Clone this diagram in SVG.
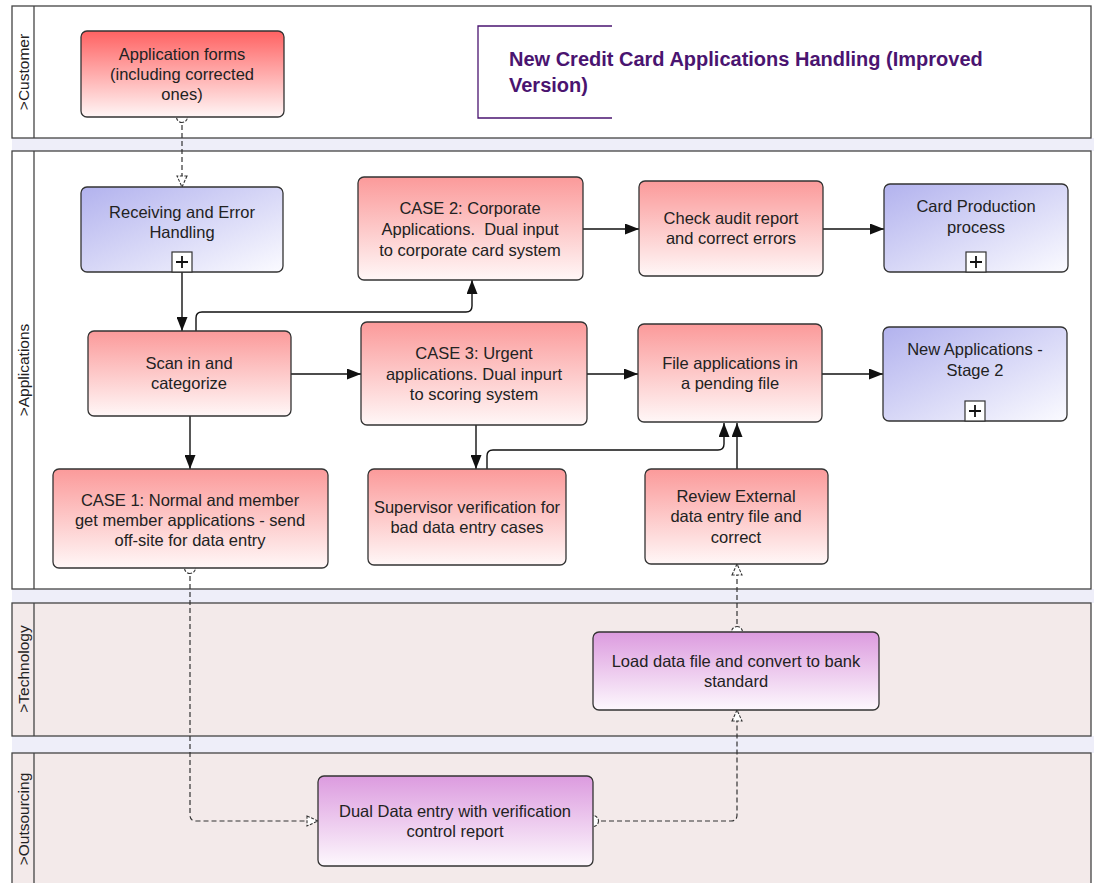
<svg xmlns="http://www.w3.org/2000/svg" width="1094" height="883" viewBox="0 0 1094 883">
<style>
.lane{stroke:#444;stroke-width:1.3}
.lanew{fill:#fff}
.lanep{fill:#f3eaea}
.gap{fill:#eeeef9}
.lbl{font-family:"Liberation Sans",Arial,sans-serif;font-size:15.5px;fill:#222;text-anchor:middle}
.node rect.b{stroke:#333;stroke-width:1.3}
.t{font-family:"Liberation Sans",Arial,sans-serif;font-size:16.5px;fill:#222;text-anchor:middle}
.title{font-family:"Liberation Sans",Arial,sans-serif;font-size:20px;font-weight:bold;fill:#4a1470}
.flow{fill:none;stroke:#111;stroke-width:1.4}
.msg{fill:none;stroke:#333;stroke-width:1.2;stroke-dasharray:5,3}
.plusbox{fill:#fff;stroke:#333;stroke-width:1.2}
.plus{stroke:#111;stroke-width:1.8}
</style>
<defs>
<linearGradient id="gRedS" x1="0" y1="0" x2="0" y2="1"><stop offset="0" stop-color="#ff6262"/><stop offset="1" stop-color="#fff6f6"/></linearGradient>
<linearGradient id="gRed" x1="0" y1="0" x2="0" y2="1"><stop offset="0" stop-color="#fb9a9a"/><stop offset="1" stop-color="#fff7f7"/></linearGradient>
<linearGradient id="gBlue" x1="0" y1="0" x2="1" y2="1"><stop offset="0" stop-color="#b2b2ee"/><stop offset="1" stop-color="#fbfbff"/></linearGradient>
<linearGradient id="gPur" x1="0" y1="0" x2="0" y2="1"><stop offset="0" stop-color="#dc9bdf"/><stop offset="1" stop-color="#fdf8fd"/></linearGradient>
<marker id="arr" viewBox="0 0 14 11" refX="14" refY="5.5" markerWidth="14" markerHeight="11" markerUnits="userSpaceOnUse" orient="auto"><path d="M0,0 L14,5.5 L0,11 z" fill="#111"/></marker>
<marker id="oarr" viewBox="0 0 13 12" refX="12" refY="6" markerWidth="13" markerHeight="12" markerUnits="userSpaceOnUse" orient="auto"><path d="M1,1 L12,6 L1,11 z" fill="#fff" stroke="#333" stroke-width="1.1" stroke-dasharray="3,1.5"/></marker>
<marker id="circ" viewBox="0 0 14 14" refX="7" refY="7" markerWidth="14" markerHeight="14" markerUnits="userSpaceOnUse" orient="auto"><circle cx="7" cy="7" r="5.5" fill="#fff" stroke="#333" stroke-width="1.1" stroke-dasharray="3,1.5"/></marker>
</defs>

<g id="lanes">
<rect class="gap" x="12" y="138" width="1082" height="13"/>
<rect class="gap" x="12" y="589" width="1082" height="14"/>
<rect class="gap" x="12" y="736" width="1082" height="17"/>
<g id="lane-customer"><rect class="lane lanew" x="12" y="6" width="1079" height="132"/><line class="lane" x1="34" y1="6" x2="34" y2="138"/><text class="lbl" transform="translate(29,72) rotate(-90)">&gt;Customer</text></g>
<g id="lane-applications"><rect class="lane lanew" x="12" y="151" width="1079" height="438"/><line class="lane" x1="34" y1="151" x2="34" y2="589"/><text class="lbl" transform="translate(29,370) rotate(-90)">&gt;Applications</text></g>
<g id="lane-technology"><rect class="lane lanep" x="12" y="603" width="1079" height="133"/><line class="lane" x1="34" y1="603" x2="34" y2="736"/><text class="lbl" transform="translate(29,669) rotate(-90)">&gt;Technology</text></g>
<g id="lane-outsourcing"><rect class="lane lanep" x="12" y="753" width="1079" height="140"/><line class="lane" x1="34" y1="753" x2="34" y2="893"/><text class="lbl" transform="translate(29,819) rotate(-90)">&gt;Outsourcing</text></g>
</g>

<g id="title">
<path d="M612,26 H478 V118 H612" fill="none" stroke="#4a1470" stroke-width="1.3"/>
<text class="title" x="509" y="66">New Credit Card Applications Handling (Improved</text>
<text class="title" x="509" y="92">Version)</text>
</g>

<g id="connectors">
<path class="msg" d="M182,117 V187" marker-start="url(#circ)" marker-end="url(#oarr)"/>
<path class="flow" d="M182,272 V331" marker-end="url(#arr)"/>
<path class="flow" d="M196,331 V318 Q196,312 202,312 H466 Q472,312 472,306 V280" marker-end="url(#arr)"/>
<path class="flow" d="M291,374 H361" marker-end="url(#arr)"/>
<path class="flow" d="M190,416 V469" marker-end="url(#arr)"/>
<path class="flow" d="M583,229 H639" marker-end="url(#arr)"/>
<path class="flow" d="M823,229 H884" marker-end="url(#arr)"/>
<path class="flow" d="M587,374 H638" marker-end="url(#arr)"/>
<path class="flow" d="M822,374 H883" marker-end="url(#arr)"/>
<path class="flow" d="M476,425 V469" marker-end="url(#arr)"/>
<path class="flow" d="M487,469 V456 Q487,450 493,450 H718 Q724,450 724,444 V423" marker-end="url(#arr)"/>
<path class="flow" d="M737,469 V423" marker-end="url(#arr)"/>
<path class="msg" d="M190,568 V815 Q190,821 196,821 H318" marker-start="url(#circ)" marker-end="url(#oarr)"/>
<path class="msg" d="M593,821 H731 Q737,821 737,815 V710" marker-start="url(#circ)" marker-end="url(#oarr)"/>
<path class="msg" d="M737,632 V564" marker-start="url(#circ)" marker-end="url(#oarr)"/>
</g>

<g id="n-appforms" class="node"><rect class="b" x="81" y="31" width="203" height="86" rx="6" fill="url(#gRedS)"/>
<text class="t" x="182" y="60">Application forms</text><text class="t" x="182" y="80">(including corrected</text><text class="t" x="182" y="100">ones)</text></g>

<g id="n-receiving" class="node"><rect class="b" x="81" y="187" width="202" height="85" rx="6" fill="url(#gBlue)"/>
<text class="t" x="182" y="218">Receiving and Error</text><text class="t" x="182" y="238">Handling</text>
<rect class="plusbox" x="172" y="252" width="20" height="20"/><path class="plus" d="M176,262 H188 M182,256 V268"/></g>

<g id="n-scan" class="node"><rect class="b" x="88" y="331" width="203" height="85" rx="6" fill="url(#gRed)"/>
<text class="t" x="189" y="369">Scan in and</text><text class="t" x="189" y="389">categorize</text></g>

<g id="n-case1" class="node"><rect class="b" x="53" y="469" width="275" height="99" rx="6" fill="url(#gRed)"/>
<text class="t" x="190" y="506">CASE 1: Normal and member</text><text class="t" x="190" y="526">get member applications - send</text><text class="t" x="190" y="546">off-site for data entry</text></g>

<g id="n-case2" class="node"><rect class="b" x="358" y="177" width="225" height="103" rx="6" fill="url(#gRed)"/>
<text class="t" x="470" y="214">CASE 2: Corporate</text><text class="t" x="470" y="235">Applications.&#160; Dual input</text><text class="t" x="470" y="256">to corporate card system</text></g>

<g id="n-case3" class="node"><rect class="b" x="361" y="322" width="226" height="103" rx="6" fill="url(#gRed)"/>
<text class="t" x="474" y="359">CASE 3: Urgent</text><text class="t" x="474" y="380">applications. Dual inpurt</text><text class="t" x="474" y="400">to scoring system</text></g>

<g id="n-supervisor" class="node"><rect class="b" x="368" y="469" width="198" height="96" rx="6" fill="url(#gRed)"/>
<text class="t" x="467" y="513">Supervisor verification for</text><text class="t" x="467" y="533">bad data entry cases</text></g>

<g id="n-check" class="node"><rect class="b" x="639" y="181" width="184" height="95" rx="6" fill="url(#gRed)"/>
<text class="t" x="731" y="224">Check audit report</text><text class="t" x="731" y="244">and correct errors</text></g>

<g id="n-cardprod" class="node"><rect class="b" x="884" y="184" width="184" height="88" rx="6" fill="url(#gBlue)"/>
<text class="t" x="976" y="212">Card Production</text><text class="t" x="976" y="233">process</text>
<rect class="plusbox" x="966" y="252" width="20" height="20"/><path class="plus" d="M970,262 H982 M976,256 V268"/></g>

<g id="n-file" class="node"><rect class="b" x="638" y="324" width="184" height="98" rx="6" fill="url(#gRed)"/>
<text class="t" x="730" y="369">File applications in</text><text class="t" x="730" y="389">a pending file</text></g>

<g id="n-newapps" class="node"><rect class="b" x="883" y="327" width="184" height="94" rx="6" fill="url(#gBlue)"/>
<text class="t" x="975" y="355">New Applications -</text><text class="t" x="975" y="376">Stage 2</text>
<rect class="plusbox" x="965" y="401" width="20" height="20"/><path class="plus" d="M969,411 H981 M975,405 V417"/></g>

<g id="n-review" class="node"><rect class="b" x="645" y="469" width="183" height="95" rx="6" fill="url(#gRed)"/>
<text class="t" x="736" y="502">Review External</text><text class="t" x="736" y="522">data entry file and</text><text class="t" x="736" y="543">correct</text></g>

<g id="n-load" class="node"><rect class="b" x="593" y="632" width="286" height="78" rx="6" fill="url(#gPur)"/>
<text class="t" x="736" y="667">Load data file and convert to bank</text><text class="t" x="736" y="687">standard</text></g>

<g id="n-dual" class="node"><rect class="b" x="318" y="776" width="275" height="90" rx="6" fill="url(#gPur)"/>
<text class="t" x="455" y="817">Dual Data entry with verification</text><text class="t" x="455" y="837">control report</text></g>
</svg>
